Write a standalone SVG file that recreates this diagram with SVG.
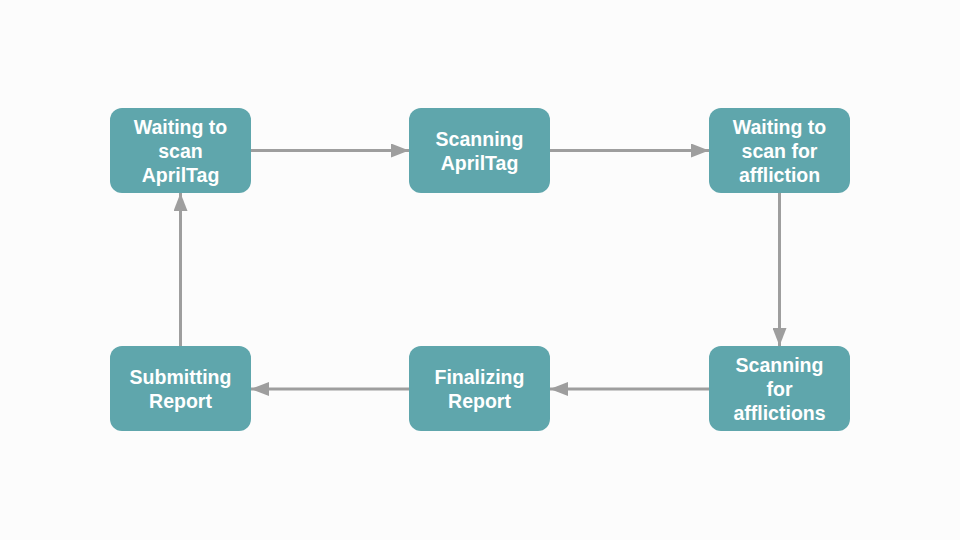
<svg xmlns="http://www.w3.org/2000/svg" width="960" height="540" viewBox="0 0 960 540">
<defs>
<marker id="ah" viewBox="0 0 18 14" refX="18" refY="7" markerWidth="18" markerHeight="14" markerUnits="userSpaceOnUse" orient="auto">
<path d="M0,0 L18,7 L0,14 Z" fill="#9e9e9e"/>
</marker>
<style>
.box{fill:#5fa6ac;}
.t{font-family:"Liberation Sans",Arial,sans-serif;font-weight:bold;font-size:19.5px;fill:#ffffff;text-anchor:middle;}
.c{stroke:#9e9e9e;stroke-width:3;fill:none;marker-end:url(#ah);}
</style>
</defs>
<rect width="960" height="540" fill="#fcfcfc"/>
<g id="connectors">
<line class="c" x1="251" y1="150.5" x2="409" y2="150.5"/>
<line class="c" x1="550" y1="150.5" x2="709" y2="150.5"/>
<line class="c" x1="779.5" y1="193" x2="779.5" y2="346"/>
<line class="c" x1="709" y1="389" x2="550" y2="389"/>
<line class="c" x1="409" y1="389" x2="251" y2="389"/>
<line class="c" x1="180.5" y1="346" x2="180.5" y2="193"/>
</g>
<g id="n1">
<rect class="box" x="110" y="108" width="141" height="85" rx="12"/>
<text class="t" x="180.5" y="134">Waiting to</text>
<text class="t" x="180.5" y="158">scan</text>
<text class="t" x="180.5" y="182">AprilTag</text>
</g>
<g id="n2">
<rect class="box" x="409" y="108" width="141" height="85" rx="12"/>
<text class="t" x="479.5" y="146">Scanning</text>
<text class="t" x="479.5" y="170">AprilTag</text>
</g>
<g id="n3">
<rect class="box" x="709" y="108" width="141" height="85" rx="12"/>
<text class="t" x="779.5" y="134">Waiting to</text>
<text class="t" x="779.5" y="158">scan for</text>
<text class="t" x="779.5" y="182">affliction</text>
</g>
<g id="n4">
<rect class="box" x="709" y="346" width="141" height="85" rx="12"/>
<text class="t" x="779.5" y="372">Scanning</text>
<text class="t" x="779.5" y="396">for</text>
<text class="t" x="779.5" y="420">afflictions</text>
</g>
<g id="n5">
<rect class="box" x="409" y="346" width="141" height="85" rx="12"/>
<text class="t" x="479.5" y="384">Finalizing</text>
<text class="t" x="479.5" y="408">Report</text>
</g>
<g id="n6">
<rect class="box" x="110" y="346" width="141" height="85" rx="12"/>
<text class="t" x="180.5" y="384">Submitting</text>
<text class="t" x="180.5" y="408">Report</text>
</g>
</svg>
